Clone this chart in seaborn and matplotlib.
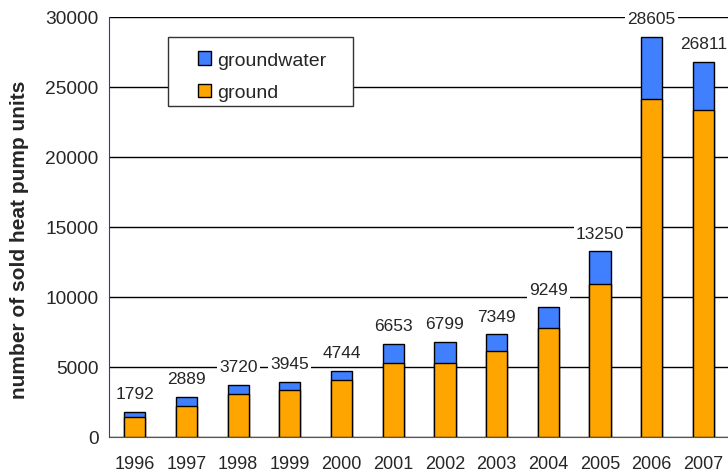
import pandas as pd
import matplotlib.pyplot as plt
import seaborn as sns
from matplotlib.patches import Patch, Rectangle

years = ["1996", "1997", "1998", "1999", "2000", "2001",
         "2002", "2003", "2004", "2005", "2006", "2007"]
totals = [1792, 2889, 3720, 3945, 4744, 6653, 6799, 7349, 9249, 13250, 28605, 26811]
ground = [1430, 2210, 3070, 3390, 4050, 5290, 5290, 6170, 7810, 10900, 24170, 23390]

BLUE = "#4080ff"
ORANGE = "#ffa500"

df = pd.DataFrame({"year": years, "total": totals, "ground": ground})

sns.set_style("white")
plt.rcParams["font.family"] = ["Liberation Sans", "DejaVu Sans"]

fig = plt.figure(figsize=(7.28, 4.77), dpi=100)
ax = fig.add_axes([0.1497, 0.0818, 0.852, 0.8805])

# groundwater on top: draw totals in blue, then ground in orange over it
sns.barplot(data=df, x="year", y="total", color=BLUE, width=0.41,
            edgecolor="black", linewidth=1, saturation=1, ax=ax, zorder=3)
sns.barplot(data=df, x="year", y="ground", color=ORANGE, width=0.41,
            edgecolor="black", linewidth=1, saturation=1, ax=ax, zorder=4)

ax.set_ylim(0, 30000)
ax.set_xlim(-0.5, 11.5)
ax.set_yticks(range(0, 30001, 5000))
ax.yaxis.grid(True, color="black", linewidth=1)
ax.set_axisbelow(True)

# value labels with white background over gridlines
for i, v in enumerate(totals):
    ax.annotate(str(v), (i, v), xytext=(0, 13), textcoords="offset points",
                ha="center", va="center", fontsize=12.5,
                bbox=dict(facecolor="white", edgecolor="none", pad=1.5), zorder=5)

for side in ["top", "right"]:
    ax.spines[side].set_visible(False)
ax.spines["left"].set_color("#33417a")
ax.spines["bottom"].set_color("#555555")

ax.set_xticks(range(12))
ax.set_xticklabels(years)
ax.set_xticks([i + 0.5 for i in range(-1, 12)], minor=True)
ax.tick_params(axis="x", which="major", length=0, labelsize=13, pad=13)
ax.tick_params(axis="x", which="minor", length=5, direction="out", color="#333333")
ax.tick_params(axis="y", length=4, direction="out", labelsize=13.8, color="#33417a")

ax.set_xlabel("")
ax.set_ylabel("number of sold heat pump units", fontsize=15, fontweight="bold")
ax.yaxis.set_label_coords(-0.1285, 0.471)

# legend box drawn by hand so it can be wider than the entries
ax.add_patch(Rectangle((0.095, 0.788), 0.299, 0.164, transform=ax.transAxes,
                       facecolor="white", edgecolor="#333333", linewidth=1, zorder=6))
handles = [Patch(facecolor=BLUE, edgecolor="black", label="groundwater"),
           Patch(facecolor=ORANGE, edgecolor="black", label="ground")]
leg = ax.legend(handles=handles, loc="upper left", bbox_to_anchor=(0.143, 0.918),
                borderaxespad=0, fontsize=14, frameon=False,
                handlelength=0.7, handleheight=0.7, handletextpad=0.3,
                borderpad=0, labelspacing=0.75)
leg.set_zorder(7)

fig.savefig("out.png", dpi=100)
plt.close(fig)
